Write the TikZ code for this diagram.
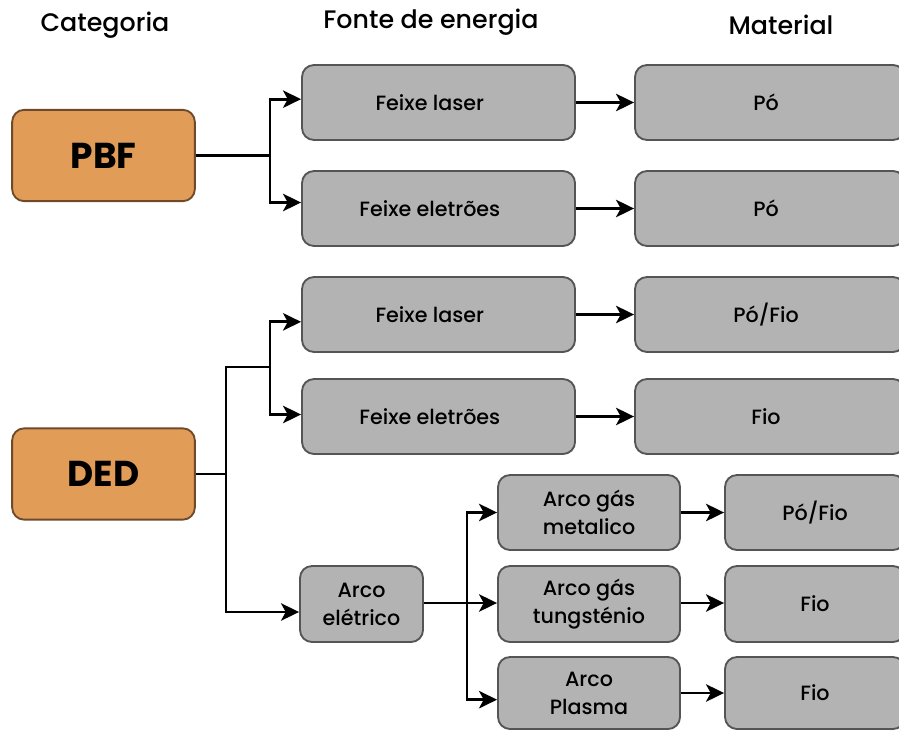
\documentclass[tikz,border=0pt]{standalone}
\usepackage{fontspec}
\setmainfont{Poppins}
\newfontfamily\medfont{Poppins Medium}
\usetikzlibrary{arrows.meta}
\definecolor{catfill}{HTML}{E19C58}
\definecolor{catline}{HTML}{6E4A2A}
\definecolor{boxfill}{HTML}{B3B3B3}
\definecolor{boxline}{HTML}{555555}
% trailing space that nudges a label left of its box centre
\newcommand{\padright}[1]{\hspace*{#1}}
\tikzset{
  base/.style={rounded corners=9pt, line width=1.4pt, inner sep=0pt, align=center},
  catbox/.style={base, draw=catline, fill=catfill, minimum width=137pt, minimum height=68.5pt,
    font=\fontsize{27}{30}\selectfont\bfseries},
  stepbox/.style={base, draw=boxline, fill=boxfill, minimum height=56.25pt,
    font=\medfont\fontsize{15.5}{21}\selectfont},
  header/.style={font=\medfont\fontsize{19}{22}\selectfont},
  wire/.style={line width=2.2pt, black},
  arr/.style={wire, -{Stealth[length=13.5pt, width=13pt, inset=3.5pt]}},
}
\begin{document}
\begin{tikzpicture}[x=0.75pt, y=-0.75pt]
\useasboundingbox (0,0) rectangle (899,731);
\clip (0,0) rectangle (899,731);

% column titles
\node[header] (hcat) at (105,25) {Categoria};
\node[header] (hsrc) at (431,22) {Fonte de energia};
\node[header] (hmat) at (781,25) {Material};

% categories
\node[catbox] (pbf) at (103.5,155.5) {PBF};
\node[catbox] (ded) at (103.5,474) {DED};

% PBF branch
\node[stepbox, minimum width=204.75pt] (fl1) at (438.5,102.5) {Feixe laser\padright{13pt}};
\node[stepbox, minimum width=204.75pt] (fe1) at (438.5,208.5) {Feixe eletrões\padright{13pt}};
\node[stepbox, minimum width=202.5pt] (m1) at (770,102.5) {Pó\padright{6pt}};
\node[stepbox, minimum width=202.5pt] (m2) at (770,208.5) {Pó\padright{6pt}};

% DED branch
\node[stepbox, minimum width=204.75pt] (fl2) at (438.5,314.5) {Feixe laser\padright{13pt}};
\node[stepbox, minimum width=204.75pt] (fe2) at (438.5,416.5) {Feixe eletrões\padright{13pt}};
\node[stepbox, minimum width=202.5pt] (m3) at (770,314.5) {Pó/Fio\padright{6pt}};
\node[stepbox, minimum width=202.5pt] (m4) at (770,416.5) {Fio\padright{6pt}};

\node[stepbox, minimum width=92.25pt, minimum height=57pt] (ae) at (361.5,604) {Arco\\elétrico};
\node[stepbox, minimum width=136.5pt] (agm) at (589,512.5) {Arco gás\\metalico};
\node[stepbox, minimum width=136.5pt, minimum height=57pt] (agt) at (589,604) {Arco gás\\tungsténio};
\node[stepbox, minimum width=136.5pt, minimum height=54pt] (ap) at (589,693) {Arco\\Plasma};
\node[stepbox, minimum width=135pt] (m5) at (815,512.5) {Pó/Fio};
\node[stepbox, minimum width=135pt, minimum height=57pt] (m6) at (815,604) {Fio};
\node[stepbox, minimum width=135pt, minimum height=54pt] (m7) at (815,693) {Fio};

% junction points
\coordinate (jp) at (270,155.5);
\coordinate (jd) at (226,474);
\coordinate (jf) at (270,367);
\coordinate (ja) at (467,603);

% PBF connectors
\draw[wire] (pbf.east) -- (jp);
\draw[arr] (jp) |- ([yshift=2.5pt]fl1.west);
\draw[arr] (jp) |- ([yshift=4.5pt]fe1.west);
\draw[arr] (fl1.east) -- (m1.west);
\draw[arr] (fe1.east) -- (m2.west);

% DED connectors
\draw[wire] (ded.east) -- (jd);
\draw[wire] (jd) |- (jf);
\draw[arr] (jf) |- ([yshift=-5.5pt]fl2.west);
\draw[arr] (jf) |- ([yshift=1.5pt]fe2.west);
\draw[arr] (jd) |- ([yshift=-6pt]ae.west);
\draw[arr] (fl2.east) -- (m3.west);
\draw[arr] (fe2.east) -- (m4.west);

% electric arc connectors
\draw[wire] (ae.east |- ja) -- (ja);
\draw[arr] (ja) |- (agm.west);
\draw[arr] (ja) -- (agt.west |- ja);
\draw[arr] (ja) |- ([yshift=-5pt]ap.west);
\draw[arr] (agm.east) -- (m5.west);
\draw[arr] (agt.east |- ja) -- (m6.west |- ja);
\draw[arr] (ap.east) -- (m7.west);
\end{tikzpicture}
\end{document}
